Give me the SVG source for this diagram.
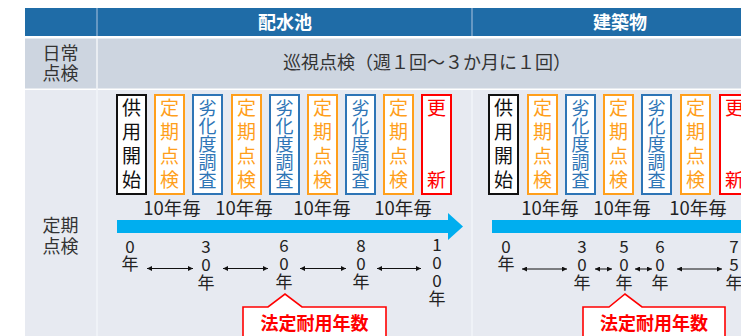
<svg xmlns="http://www.w3.org/2000/svg" width="741" height="336" viewBox="0 0 741 336">
<style>
.hd{font-family:"Noto Sans CJK JP","Noto Sans",sans-serif;font-size:18px;font-weight:bold;fill:#ffffff;text-anchor:middle}
.lb{font-family:"Noto Sans CJK JP","Noto Sans",sans-serif;font-size:18px;fill:#333333;text-anchor:middle}
.bx{font-family:"Noto Sans CJK JP","Noto Sans",sans-serif;font-size:19px;text-anchor:middle}
.bs{font-family:"Noto Sans CJK JP","Noto Sans",sans-serif;font-size:18px;text-anchor:middle}
.yr{font-family:"Noto Sans CJK JP","Noto Sans",sans-serif;font-size:17px;fill:#222222;text-anchor:middle}
.ev{font-family:"Noto Sans CJK JP","Noto Sans",sans-serif;font-size:18.5px;fill:#222222;text-anchor:middle}
.cl{font-family:"Noto Sans CJK JP","Noto Sans",sans-serif;font-size:18px;font-weight:bold;fill:#ff0000;text-anchor:middle}
.k{fill:#ffffff;stroke:#111111;stroke-width:2}
.o{fill:#ffffff;stroke:#ff9f1c;stroke-width:2}
.b{fill:#ffffff;stroke:#2e75b6;stroke-width:2}
.r{fill:#ffffff;stroke:#ff0000;stroke-width:2}
.tk{fill:#111111}.to{fill:#ff9f1c}.tb{fill:#2e75b6}.tr{fill:#ff0000}
.da{stroke:#111111;stroke-width:1;fill:none;marker-start:url(#ah);marker-end:url(#ah)}
.call{fill:#ffffff;stroke:#ff0000;stroke-width:1.6}
</style>
<defs>
<marker id="ah" viewBox="0 0 10 10" refX="10" refY="5" markerWidth="5" markerHeight="5" orient="auto-start-reverse" markerUnits="userSpaceOnUse">
<path d="M0,0 L10,5 L0,10 Z" fill="#111111"/>
</marker>
</defs>
<rect width="741" height="336" fill="#ffffff"/>
<g id="table">
<rect x="25" y="8" width="716" height="28" fill="#1f6ca7"/>
<rect x="25" y="38.5" width="716" height="50" fill="#cdd5e0"/>
<rect x="25" y="90" width="716" height="246" fill="#e7eaf1"/>
<line x1="97" y1="8" x2="97" y2="36" stroke="#7fa7cc" stroke-width="1.5"/>
<line x1="472" y1="8" x2="472" y2="36" stroke="#7fa7cc" stroke-width="1.5"/>
<line x1="97" y1="38" x2="97" y2="336" stroke="#f2f4f8" stroke-width="1.5"/>
<line x1="472" y1="90" x2="472" y2="336" stroke="#f2f4f8" stroke-width="1.5"/>
<text class="hd" x="285" y="28.5">配水池</text>
<text class="hd" x="620" y="28.5">建築物</text>
<text class="lb" x="60.5" y="60">日常</text>
<text class="lb" x="60.5" y="80">点検</text>
<text class="lb" x="427" y="69">巡視点検（週１回～３か月に１回）</text>
<text class="lb" x="60.5" y="232">定期</text>
<text class="lb" x="60.5" y="253">点検</text>
</g>
<g id="timeline-arrows">
<rect x="117" y="220" width="331" height="13" fill="#00aeef"/>
<polygon points="448,213 463,226.5 448,240" fill="#00aeef"/>
<rect x="492" y="220" width="249" height="13" fill="#00aeef"/>
</g>
<g id="left-boxes">
<g id="l1"><rect class="k" x="117" y="95" width="29" height="99"/><text class="bx tk" x="131.5" y="115">供</text><text class="bx tk" x="131.5" y="139">用</text><text class="bx tk" x="131.5" y="163">開</text><text class="bx tk" x="131.5" y="187">始</text></g>
<g id="l2"><rect class="o" x="155" y="95" width="29" height="99"/><text class="bx to" x="169.5" y="115">定</text><text class="bx to" x="169.5" y="139">期</text><text class="bx to" x="169.5" y="163">点</text><text class="bx to" x="169.5" y="187">検</text></g>
<g id="l3"><rect class="b" x="193" y="95" width="29" height="99"/><text class="bs tb" x="207.5" y="115">劣</text><text class="bs tb" x="207.5" y="133">化</text><text class="bs tb" x="207.5" y="151">度</text><text class="bs tb" x="207.5" y="169">調</text><text class="bs tb" x="207.5" y="187">査</text></g>
<g id="l4"><rect class="o" x="232" y="95" width="29" height="99"/><text class="bx to" x="246.5" y="115">定</text><text class="bx to" x="246.5" y="139">期</text><text class="bx to" x="246.5" y="163">点</text><text class="bx to" x="246.5" y="187">検</text></g>
<g id="l5"><rect class="b" x="270" y="95" width="29" height="99"/><text class="bs tb" x="284.5" y="115">劣</text><text class="bs tb" x="284.5" y="133">化</text><text class="bs tb" x="284.5" y="151">度</text><text class="bs tb" x="284.5" y="169">調</text><text class="bs tb" x="284.5" y="187">査</text></g>
<g id="l6"><rect class="o" x="308" y="95" width="29" height="99"/><text class="bx to" x="322.5" y="115">定</text><text class="bx to" x="322.5" y="139">期</text><text class="bx to" x="322.5" y="163">点</text><text class="bx to" x="322.5" y="187">検</text></g>
<g id="l7"><rect class="b" x="346" y="95" width="29" height="99"/><text class="bs tb" x="360.5" y="115">劣</text><text class="bs tb" x="360.5" y="133">化</text><text class="bs tb" x="360.5" y="151">度</text><text class="bs tb" x="360.5" y="169">調</text><text class="bs tb" x="360.5" y="187">査</text></g>
<g id="l8"><rect class="o" x="384" y="95" width="29" height="99"/><text class="bx to" x="398.5" y="115">定</text><text class="bx to" x="398.5" y="139">期</text><text class="bx to" x="398.5" y="163">点</text><text class="bx to" x="398.5" y="187">検</text></g>
<g id="l9"><rect class="r" x="422" y="95" width="29" height="99"/><text class="bx tr" x="436.5" y="115">更</text><text class="bx tr" x="436.5" y="187">新</text></g>
</g>
<g id="right-boxes">
<g id="r1"><rect class="k" x="489" y="95" width="29" height="99"/><text class="bx tk" x="503.5" y="115">供</text><text class="bx tk" x="503.5" y="139">用</text><text class="bx tk" x="503.5" y="163">開</text><text class="bx tk" x="503.5" y="187">始</text></g>
<g id="r2"><rect class="o" x="528" y="95" width="29" height="99"/><text class="bx to" x="542.5" y="115">定</text><text class="bx to" x="542.5" y="139">期</text><text class="bx to" x="542.5" y="163">点</text><text class="bx to" x="542.5" y="187">検</text></g>
<g id="r3"><rect class="b" x="566" y="95" width="29" height="99"/><text class="bs tb" x="580.5" y="115">劣</text><text class="bs tb" x="580.5" y="133">化</text><text class="bs tb" x="580.5" y="151">度</text><text class="bs tb" x="580.5" y="169">調</text><text class="bs tb" x="580.5" y="187">査</text></g>
<g id="r4"><rect class="o" x="604" y="95" width="29" height="99"/><text class="bx to" x="618.5" y="115">定</text><text class="bx to" x="618.5" y="139">期</text><text class="bx to" x="618.5" y="163">点</text><text class="bx to" x="618.5" y="187">検</text></g>
<g id="r5"><rect class="b" x="642" y="95" width="29" height="99"/><text class="bs tb" x="656.5" y="115">劣</text><text class="bs tb" x="656.5" y="133">化</text><text class="bs tb" x="656.5" y="151">度</text><text class="bs tb" x="656.5" y="169">調</text><text class="bs tb" x="656.5" y="187">査</text></g>
<g id="r6"><rect class="o" x="681" y="95" width="29" height="99"/><text class="bx to" x="695.5" y="115">定</text><text class="bx to" x="695.5" y="139">期</text><text class="bx to" x="695.5" y="163">点</text><text class="bx to" x="695.5" y="187">検</text></g>
<g id="r7"><rect class="r" x="720" y="95" width="29" height="99"/><text class="bx tr" x="734.5" y="115">更</text><text class="bx tr" x="734.5" y="187">新</text></g>
</g>
<g id="interval-labels">
<text class="ev" x="172" y="214.5">10年毎</text>
<text class="ev" x="244" y="214.5">10年毎</text>
<text class="ev" x="322" y="214.5">10年毎</text>
<text class="ev" x="403" y="214.5">10年毎</text>
<text class="ev" x="550" y="214.5">10年毎</text>
<text class="ev" x="622" y="214.5">10年毎</text>
<text class="ev" x="698" y="214.5">10年毎</text>
</g>
<g id="year-labels">
<text class="yr" x="130" y="253">0</text><text class="yr" x="130" y="270">年</text>
<text class="yr" x="206" y="253">3</text><text class="yr" x="206" y="271">0</text><text class="yr" x="206" y="289">年</text>
<text class="yr" x="284" y="252">6</text><text class="yr" x="284" y="270">0</text><text class="yr" x="284" y="288">年</text>
<text class="yr" x="361" y="252">8</text><text class="yr" x="361" y="270">0</text><text class="yr" x="361" y="288">年</text>
<text class="yr" x="437" y="251">1</text><text class="yr" x="437" y="269">0</text><text class="yr" x="437" y="287">0</text><text class="yr" x="437" y="305">年</text>
<text class="yr" x="506" y="253">0</text><text class="yr" x="506" y="270">年</text>
<text class="yr" x="582" y="253">3</text><text class="yr" x="582" y="271">0</text><text class="yr" x="582" y="289">年</text>
<text class="yr" x="624" y="253">5</text><text class="yr" x="624" y="271">0</text><text class="yr" x="624" y="289">年</text>
<text class="yr" x="660" y="253">6</text><text class="yr" x="660" y="271">0</text><text class="yr" x="660" y="289">年</text>
<text class="yr" x="734" y="253">7</text><text class="yr" x="734" y="271">5</text><text class="yr" x="734" y="289">年</text>
</g>
<g id="connectors">
<line class="da" x1="147" y1="268.5" x2="193" y2="268.5"/>
<line class="da" x1="223" y1="268.5" x2="268" y2="268.5"/>
<line class="da" x1="300" y1="268.5" x2="346" y2="268.5"/>
<line class="da" x1="377" y1="268.5" x2="421" y2="268.5"/>
<line class="da" x1="522" y1="269" x2="567" y2="269"/>
<line class="da" x1="595" y1="269" x2="612" y2="269"/>
<line class="da" x1="635" y1="269" x2="652" y2="269"/>
<line class="da" x1="677" y1="269" x2="722" y2="269"/>
</g>
<g id="callout-left">
<path class="call" d="M243,307 H268 L285,294 L302,307 H386 V340 H243 Z"/>
<text class="cl" x="314.5" y="330">法定耐用年数</text>
</g>
<g id="callout-right">
<path class="call" d="M583,307 H609 L625,294 L642,307 H725 V340 H583 Z"/>
<text class="cl" x="654" y="330">法定耐用年数</text>
</g>
</svg>
